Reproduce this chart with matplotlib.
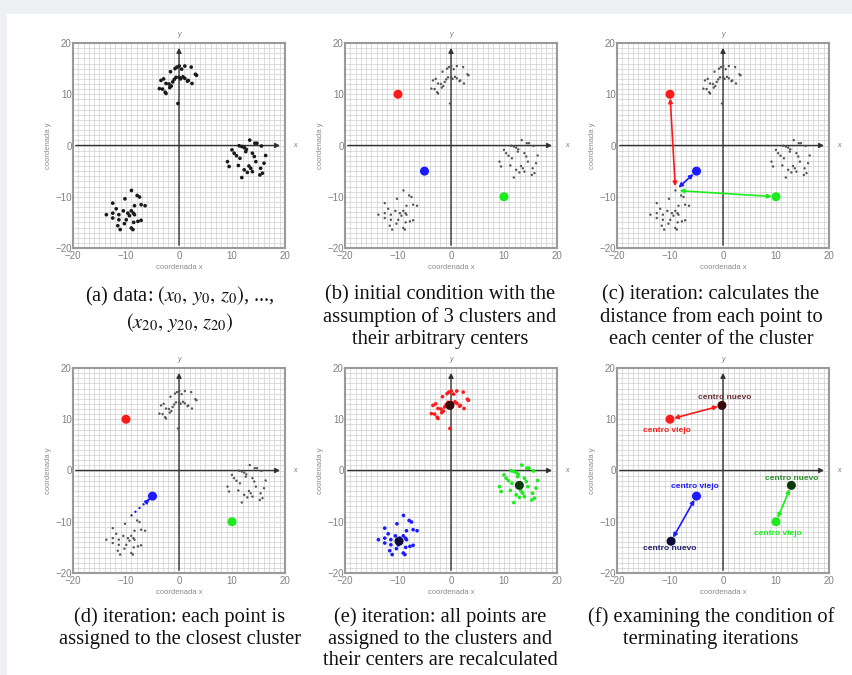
import numpy as np
import matplotlib.pyplot as plt
from matplotlib.patches import Rectangle

plt.rcParams['font.family'] = ['Liberation Sans', 'DejaVu Sans']
plt.rcParams['mathtext.fontset'] = 'stix'

# cluster points
top_x = [-1.6, -0.75, -0.4, 0.05, 0.5, 1.1, 2.3, 3.1, 3.3, -3.4, -2.9, -2.45, -1.9, -1.75, -1.45,
         -0.9, -0.55, 0.05, 0.75, 1.1, 1.75, 2.45, -3.7, -3.1, -2.6, -2.45, -0.2, -1.2, 0.3, 1.6]
top_y = [14.4, 15.0, 15.3, 15.5, 14.9, 15.5, 15.3, 13.9, 13.7, 12.7, 13.0, 12.1, 12.0, 11.3, 11.6,
         12.9, 13.3, 13.3, 13.4, 13.1, 12.7, 12.1, 11.1, 11.0, 10.4, 10.15, 8.2, 12.4, 13.0, 12.55]
right_x = [13.35, 11.35, 11.85, 12.3, 12.7, 14.3, 14.7, 15.55, 10.0, 10.4, 10.85, 11.5, 12.6, 13.85,
           14.2, 16.35, 9.15, 9.45, 11.2, 12.3, 13.2, 13.55, 14.5, 16.05, 15.4, 15.75, 13.85, 12.9,
           11.85, 15.25]
right_y = [1.05, -0.05, -0.2, -0.4, -0.75, 0.45, 0.45, -0.1, -0.85, -1.5, -2.0, -2.5, -1.2, -1.5,
           -2.15, -1.95, -3.15, -4.1, -3.9, -4.75, -4.0, -4.45, -3.15, -3.45, -4.45, -5.4, -5.1,
           -5.25, -6.25, -5.75]
left_x = [-8.97, -7.9, -7.45, -10.2, -12.5, -11.85, -10.5, -9.0, -8.4, -7.15, -6.4, -13.7, -12.5,
          -11.35, -9.65, -8.6, -12.5, -9.35, -8.4, -9.95, -7.75, -7.15, -8.55, -11.55, -10.3, -11.1,
          -9.0, -8.7, -11.35]
left_y = [-8.77, -9.75, -10.05, -10.4, -11.25, -12.35, -12.75, -12.75, -11.75, -11.55, -11.75,
          -13.5, -13.2, -13.5, -13.2, -13.2, -14.15, -13.7, -13.5, -14.5, -14.8, -14.6, -15.0,
          -15.65, -15.25, -16.4, -16.1, -16.4, -14.5]

# cluster centres: initial (old) and recalculated (new), order red, blue, green
old_x = [-10, -5, 10]
old_y = [10, -5, -10]
new_x = [-0.2, -9.8, 12.9]
new_y = [12.7, -13.8, -2.9]
colors = ['#ff1a1a', '#1a1aff', '#1aee1a']
dark_colors = ['#3a0a0a', '#0a0a3a', '#0a3a0a']
label_dark = ['#6a3030', '#202070', '#2a8a2a']

captions = [
    "(a) data: $(x_0,\\, y_0,\\, z_0)$, ...,\n$(x_{20},\\, y_{20},\\, z_{20})$",
    "(b) initial condition with the\nassumption of 3 clusters and\ntheir arbitrary centers",
    "(c) iteration: calculates the\ndistance from each point to\neach center of the cluster",
    "(d) iteration: each point is\nassigned to the closest cluster",
    "(e) iteration: all points are\nassigned to the clusters and\ntheir centers are recalculated",
    "(f) examining the condition of\nterminating iterations",
]

W, H = 853, 675
fig = plt.figure(figsize=(W / 100, H / 100), dpi=100, facecolor='#eef0f3')
fig.patches.append(Rectangle((7 / W, 0), 1, 1 - 14 / H, transform=fig.transFigure,
                             facecolor='white', edgecolor='none', zorder=-10))

lefts = [73, 345, 617]
tops = [43, 368]
cap_x = [180, 440, 711]
cap_top = [285, 607]


def base(ax):
    ax.set_xlim(-20, 20)
    ax.set_ylim(-20, 20)
    ax.set_xticks([-20, -10, 0, 10, 20])
    ax.set_yticks([-20, -10, 0, 10, 20])
    ax.set_xticks(np.arange(-20, 21, 1), minor=True)
    ax.set_yticks(np.arange(-20, 21, 1), minor=True)
    ax.grid(which='both', color='#cfcfcf', lw=0.5)
    ax.set_axisbelow(True)
    ax.tick_params(which='both', length=0, labelsize=7, colors='#808080', pad=1)
    ax.tick_params(axis='x', pad=2)
    for sp in ax.spines.values():
        sp.set_color('#9a9a9a')
        sp.set_linewidth(1.5)
    ax.set_xlabel('coordenada x', fontsize=5.5, color='#8a8a8a', labelpad=2)
    ax.set_ylabel('coordenada y', fontsize=5.5, color='#8a8a8a', labelpad=2)
    ax.annotate('', xy=(19.6, 0), xytext=(-20, 0),
                arrowprops=dict(arrowstyle='-|>', color='#333333', lw=1.0, mutation_scale=7))
    ax.annotate('', xy=(0, 19.6), xytext=(0, -20),
                arrowprops=dict(arrowstyle='-|>', color='#333333', lw=1.0, mutation_scale=7))
    ax.text(21.5, 0, 'x', fontsize=5, color='#777777', style='italic', va='center', clip_on=False)
    ax.text(0, 21.3, 'y', fontsize=5, color='#777777', style='italic', ha='center', clip_on=False)


def points(ax, color, s):
    for xs, ys in [(top_x, top_y), (right_x, right_y), (left_x, left_y)]:
        ax.scatter(xs, ys, s=s, color=color, edgecolors='none', zorder=3)


def darrow(ax, x0, y0, x1, y1, color, ls='-'):
    ax.annotate('', xy=(x1, y1), xytext=(x0, y0),
                arrowprops=dict(arrowstyle='<|-|>', color=color, lw=1.2, ls=ls,
                                mutation_scale=6, shrinkA=3, shrinkB=3), zorder=4)


axes = []
for r in range(2):
    for c in range(3):
        ax = fig.add_axes([lefts[c] / W, 1 - (tops[r] + 205) / H, 212 / W, 205 / H])
        base(ax)
        axes.append(ax)
        i = r * 3 + c
        fig.text(cap_x[c] / W, 1 - cap_top[r] / H, captions[i], ha='center', va='top',
                 family='Liberation Serif', fontsize=14.8, linespacing=1.2, color='#111111')

ax_a, ax_b, ax_c, ax_d, ax_e, ax_f = axes

# (a)
points(ax_a, '#1a1a1a', 7)

# (b)
points(ax_b, '#555555', 3)
ax_b.scatter(old_x, old_y, s=30, color=colors, zorder=5)

# (c)
points(ax_c, '#555555', 3)
px, py = left_x[0], left_y[0]
for k in range(3):
    darrow(ax_c, old_x[k], old_y[k], px, py, colors[k])
ax_c.scatter(old_x, old_y, s=30, color=colors, zorder=5)

# (d)
points(ax_d, '#555555', 3)
ax_d.plot([old_x[1], px], [old_y[1], py], ls=':', color=colors[1], lw=1.5, zorder=4)
darrow(ax_d, old_x[1], old_y[1], old_x[1] - 1.2, old_y[1] - 1.2, colors[1])
ax_d.scatter(old_x, old_y, s=30, color=colors, zorder=5)

# (e)
ax_e.scatter(top_x, top_y, s=7, color=colors[0], edgecolors='none', zorder=3)
ax_e.scatter(left_x, left_y, s=7, color=colors[1], edgecolors='none', zorder=3)
ax_e.scatter(right_x, right_y, s=7, color=colors[2], edgecolors='none', zorder=3)
ax_e.scatter(new_x, new_y, s=30, color=dark_colors, zorder=5)

# (f)
for k in range(3):
    darrow(ax_f, old_x[k], old_y[k], new_x[k], new_y[k], colors[k])
ax_f.scatter(old_x, old_y, s=30, color=colors, zorder=5)
ax_f.scatter(new_x, new_y, s=30, color=dark_colors, zorder=5)
lab = dict(fontsize=6, fontweight='bold', ha='center', va='center', zorder=6)
ax_f.text(-10.5, 7.8, 'centro viejo', color=colors[0], **lab)
ax_f.text(0.3, 14.3, 'centro nuevo', color=label_dark[0], **lab)
ax_f.text(-5.3, -3.1, 'centro viejo', color=colors[1], **lab)
ax_f.text(-10.0, -15.3, 'centro nuevo', color=label_dark[1], **lab)
ax_f.text(10.4, -12.2, 'centro viejo', color=colors[2], **lab)
ax_f.text(12.9, -1.5, 'centro nuevo', color=label_dark[2], **lab)

fig.savefig('out.png', dpi=100, facecolor=fig.get_facecolor())
